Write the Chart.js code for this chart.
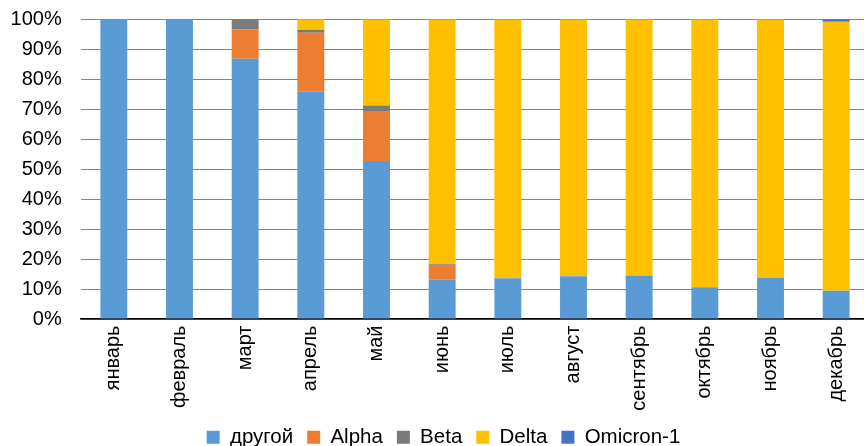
<!DOCTYPE html>
<html>
<head>
<meta charset="utf-8">
<script src="https://cdn.jsdelivr.net/npm/chart.js@4/dist/chart.umd.min.js"></script>
<style>
html,body{margin:0;padding:0;background:#fff;overflow:hidden}
#wrap{position:relative;width:869px;height:446px}
</style>
</head>
<body>
<div id="wrap"><canvas id="variantChart"></canvas></div>
<script>

// months (x axis)
const months=["январь","февраль","март","апрель","май","июнь","июль","август","сентябрь","октябрь","ноябрь","декабрь"]

// share of sequences per variant, %
const other=[100,100,86.8,75.8,52.7,13.1,13.6,14.3,14.5,10.6,13.8,9.4]
const alpha=[0,0,9.9,19.7,16.7,4.7,0,0,0,0,0,0]
const beta=[0,0,3.3,1.0,1.8,0.5,0,0,0,0,0,0]
const delta=[0,0,0,3.5,28.8,81.7,86.4,85.7,85.5,89.4,86.2,89.8]
const omicron=[0,0,0,0,0,0,0,0,0,0,0,0.8]

const yTicks=[0,10,20,30,40,50,60,70,80,90,100]

const font="'Liberation Sans', Arial, sans-serif"

// legend sits a bit right of centre in the original
const legendShift={
id:"legendShift",
afterLayout(c){
c.legend.left+=9
c.legend.right+=9
}
}

new Chart(document.getElementById("variantChart"),{

type:"bar",

data:{
labels:months,
datasets:[
{label:"другой",data:other,backgroundColor:"#5B9BD5"},
{label:"Alpha",data:alpha,backgroundColor:"#ED7D31"},
{label:"Beta",data:beta,backgroundColor:"#7B7B7B"},
{label:"Delta",data:delta,backgroundColor:"#FFC000"},
{label:"Omicron-1",data:omicron,backgroundColor:"#4472C4"}
]
},

options:{
responsive:true,
maintainAspectRatio:false,
animation:false,
layout:{padding:{top:0,right:0,bottom:-11.5,left:0}},
datasets:{bar:{barPercentage:0.41,categoryPercentage:1}},
plugins:{
legend:{
position:"bottom",
labels:{
boxWidth:13,
boxHeight:13,
padding:14,
color:"#000",
font:{family:font,size:20.5}
}
},
tooltip:{enabled:false}
},
scales:{
x:{
stacked:true,
grid:{display:false,drawTicks:false},
border:{color:"#000",width:1.5},
ticks:{
color:"#000",
font:{family:font,size:20},
minRotation:90,
maxRotation:90,
padding:6.5
},
afterFit(s){s.height=94}
},
y:{
stacked:true,
min:0,
max:100,
afterBuildTicks(s){s.ticks=yTicks.map(v=>({value:v}))},
grid:{color:"#858585",lineWidth:1,drawTicks:true,tickLength:12,tickColor:"rgba(0,0,0,0)"},
border:{display:false},
ticks:{
color:"#000",
font:{family:font,size:20},
padding:7.3,
callback:v=>v+"%"
},
afterFit(s){s.width=81}
}
}
},

plugins:[legendShift]

})

</script>
</body>
</html>
